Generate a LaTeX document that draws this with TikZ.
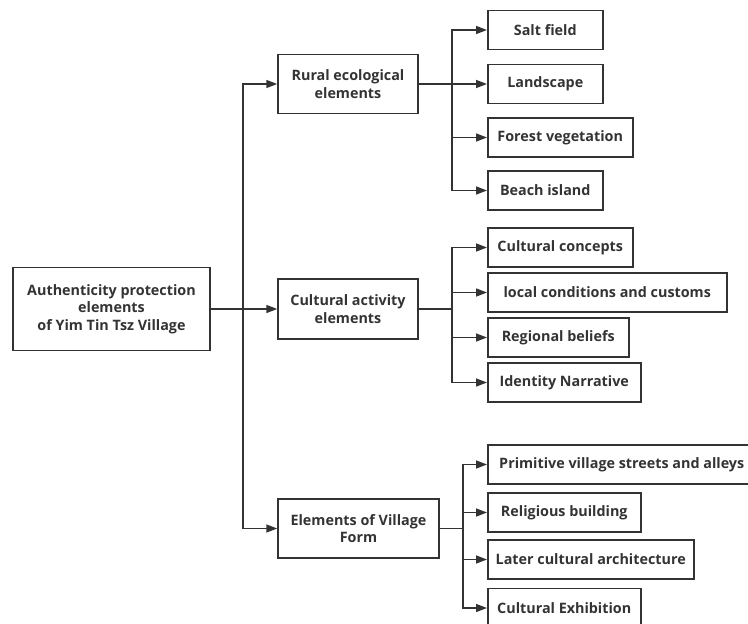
\documentclass[tikz,border=0pt]{standalone}
\usepackage{fontspec}
\setmainfont{Open Sans}
\usetikzlibrary{arrows.meta}
\definecolor{ink}{HTML}{333333}
\begin{document}
\begin{tikzpicture}[x=1bp,y=-1bp,
  box/.style={draw=ink, line width=1.5bp, minimum height=39bp, inner sep=0pt,
    font=\fontsize{14.4}{17.5}\selectfont\bfseries, text=ink, align=center},
  leaf/.style={box, anchor=west},
  wire/.style={draw=ink, line width=1.5bp},
  conn/.style={wire, -{Triangle[length=11bp,width=8bp]}}]
\useasboundingbox (0,0) rectangle (748,624);
\clip (0,0) rectangle (748,624);
% main nodes
\node[box, minimum width=197bp, minimum height=83bp] (root) at (111.5,309)
  {Authenticity protection\\elements\\of Yim Tin Tsz Village};
\node[box, minimum width=140bp, minimum height=59bp] (rural) at (348,84)
  {Rural ecological\\elements};
\node[box, minimum width=140bp, minimum height=60bp] (cult) at (348,309)
  {Cultural activity\\elements};
\node[box, minimum width=161bp, minimum height=59bp] (vform) at (358.5,528.5)
  {Elements of Village\\Form};
% leaves
\node[leaf, minimum width=115bp] (salt) at (487,30) {Salt field};
\node[leaf, minimum width=115bp] (land) at (487,84) {Landscape};
\node[leaf, minimum width=145bp] (forest) at (487,137.5) {Forest vegetation};
\node[leaf, minimum width=115bp] (beach) at (487,190.5) {Beach island};
\node[leaf, minimum width=145bp] (ccon) at (487,247.5) {Cultural concepts};
\node[leaf, minimum width=239bp] (local) at (487,292.5) {local conditions and customs};
\node[leaf, minimum width=141bp] (regional) at (487,337.5) {Regional beliefs};
\node[leaf, minimum width=153bp] (identity) at (487,382.5) {Identity Narrative};
\node[leaf, minimum width=268bp] (prim) at (487,464.5) {Primitive village streets and alleys};
\node[leaf, minimum width=153bp] (relig) at (487,512.5) {Religious building};
\node[leaf, minimum width=206bp] (later) at (487,559.5) {Later cultural architecture};
\node[leaf, minimum width=153bp] (exhib) at (487,608) {Cultural Exhibition};
% trunk
\coordinate (tr) at (243,309);
\draw[conn] (root.east) -- (cult.west);
\draw[conn] (tr) |- (rural.west);
\draw[conn] (tr) |- (vform.west);
% rural branch
\coordinate (rb) at (452,84);
\draw[conn] (rural.east) -- (land.west);
\draw[conn] (rb) |- (salt.west);
\draw[conn] (rb) |- (forest.west);
\draw[conn] (rb) |- (beach.west);
% cultural branch
\coordinate (cb) at (452,309);
\draw[wire] (cult.east) -- (cb);
\foreach \n in {ccon,local,regional,identity} \draw[conn] (cb) |- (\n.west);
% village branch
\coordinate (vb) at (463,528.5);
\draw[wire] (vform.east) -- (vb);
\foreach \n in {prim,relig,later,exhib} \draw[conn] (vb) |- (\n.west);
\end{tikzpicture}
\end{document}
